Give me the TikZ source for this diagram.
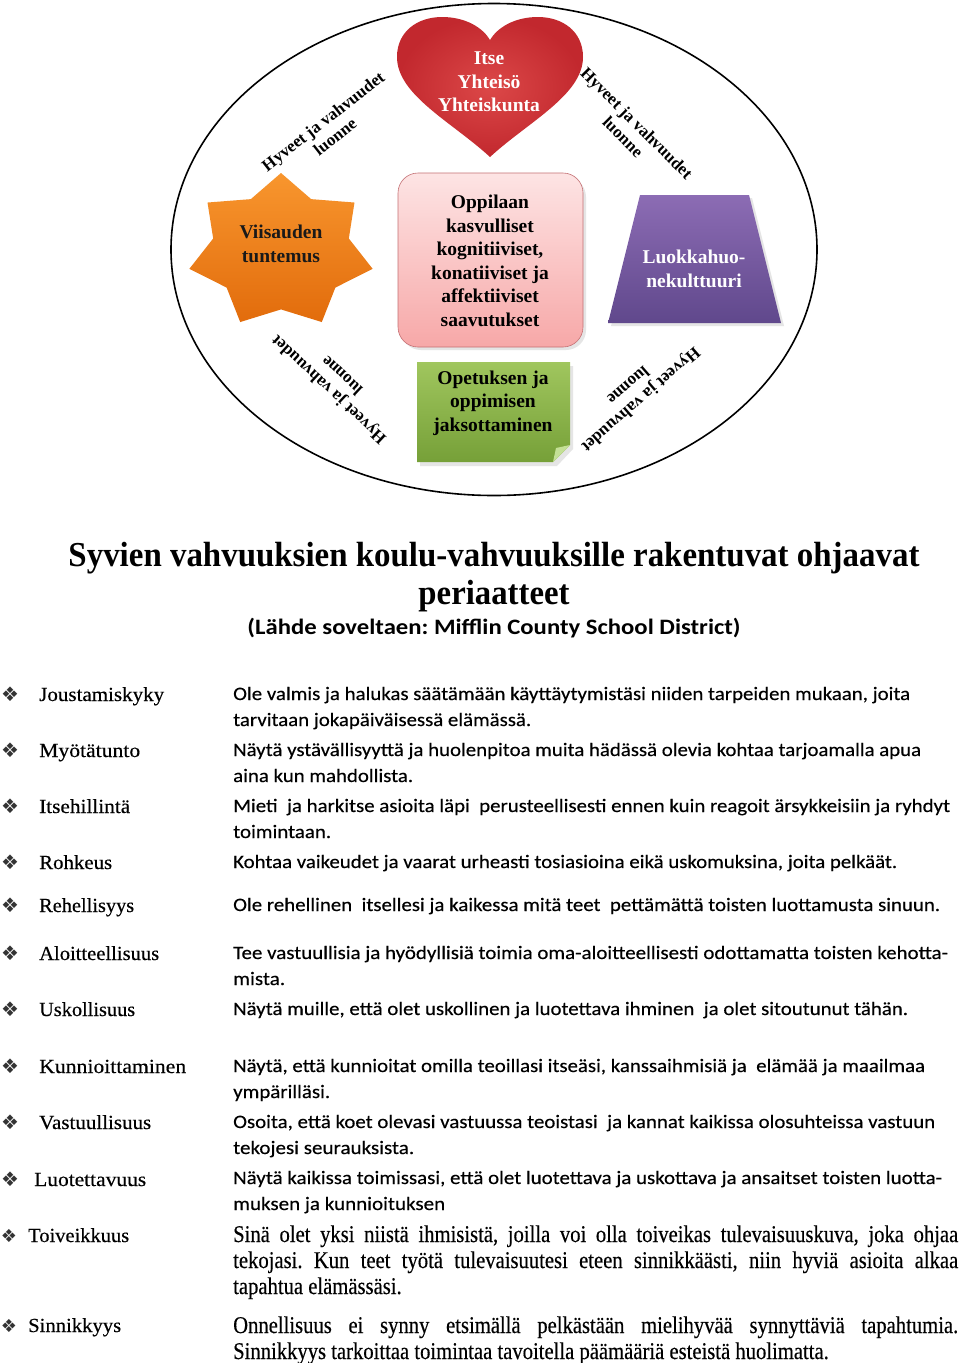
\documentclass[tikz,border=0pt]{standalone}
\usepackage{graphicx}
\usepackage{fontspec}
\setmainfont{Liberation Serif}
\newfontfamily\labfont[FakeBold=0.35]{Liberation Serif}
\newfontfamily\calfont[FakeBold=0.3]{Carlito}
\newfontfamily\calbfont{Carlito Bold}
\newfontfamily\symfont{DejaVu Sans}
\newfontfamily\condfont[FakeStretch=0.86,FakeBold=0.35]{Liberation Serif}
\newcommand{\hw}[2]{\resizebox{#1pt}{\height}{#2}}
\frenchspacing
\definecolor{heartin}{RGB}{220,72,72}
\definecolor{heartout}{RGB}{194,40,46}
\definecolor{startop}{RGB}{248,150,46}
\definecolor{starbot}{RGB}{226,108,12}
\definecolor{pinktop}{RGB}{253,228,228}
\definecolor{pinkbot}{RGB}{247,168,168}
\definecolor{pinkline}{RGB}{196,112,116}
\definecolor{greentop}{RGB}{160,198,94}
\definecolor{greenbot}{RGB}{118,160,56}
\definecolor{greenfold}{RGB}{196,224,150}
\definecolor{purtop}{RGB}{140,108,180}
\definecolor{purbot}{RGB}{96,72,140}
\tikzset{
  shapetext/.style={font=\fontsize{19.5}{23.5}\selectfont\bfseries, align=center, inner sep=0},
  lbl/.style={font=\fontsize{17}{19.5}\selectfont\bfseries, align=center, inner sep=0},
  listlab/.style={anchor=base west, inner sep=0, font=\labfont\fontsize{20}{24}\selectfont},
  desc/.style={anchor=base west, inner sep=0, font=\calfont\fontsize{19}{23}\selectfont},
  cdesc/.style={anchor=base west, inner sep=0, font=\condfont\fontsize{24}{27}\selectfont},
  bul/.style={anchor=base, inner sep=0, font=\symfont\fontsize{20}{22}\selectfont, text=black!80},
  titlestyle/.style={anchor=base, inner sep=0, font=\fontsize{35}{38}\selectfont\bfseries},
}
\begin{document}
\begin{tikzpicture}[x=1pt,y=-1pt]
\useasboundingbox[fill=white] (0,0) rectangle (960,1363);

% outer ellipse
\draw[line width=1.6pt] (494,249.5) ellipse [x radius=323pt, y radius=246pt];

% heart
\shade[inner color=heartin, outer color=heartout, shading=radial]
  (490,157) .. controls (452,122) and (397,95) .. (397,57)
  .. controls (397,31) and (418,17) .. (442,17)
  .. controls (466,17) and (483,28) .. (490,40)
  .. controls (497,28) and (514,17) .. (538,17)
  .. controls (562,17) and (583,31) .. (583,57)
  .. controls (583,95) and (528,122) .. (490,157) -- cycle;
\node[shapetext, text=white] (heart) at (489,82) {Itse\\Yhteisö\\Yhteiskunta};

% star
\shade[top color=startop, bottom color=starbot]
  (281,173)
  \foreach \i/\r in {1/0.74,2/1,3/0.74,4/1,5/0.74,6/1,7/0.74,8/1,9/0.74,10/1,11/0.74,12/1,13/0.74}{
    -- ({281+94*\r*cos(90+\i*360/14)},{251.4-78.4*\r*sin(90+\i*360/14)})
  } -- cycle;
\node[shapetext, text=black!90] (star) at (281,244) {Viisauden\\tuntemus};

% centre rounded box
\fill[black!10, rounded corners=20pt] (401,177) rectangle (586,350);
\shade[rounded corners=20pt, top color=pinktop, bottom color=pinkbot]
  (398,173) rectangle (583,347);
\draw[rounded corners=20pt, draw=pinkline, line width=0.6pt] (398,173) rectangle (583,347);
\node[shapetext, text=black] (centre) at (490,261) {Oppilaan\\kasvulliset\\kognitiiviset,\\konatiiviset ja\\affektiiviset\\saavutukset};

% green note
\fill[black!10] (420,366) -- (573,366) -- (573,449) -- (557,466) -- (420,466) -- cycle;
\shade[top color=greentop, bottom color=greenbot]
  (417,362) -- (570,362) -- (570,445) -- (553,462) -- (417,462) -- cycle;
\fill[greenfold] (570,445) -- (556,448) -- (553,462) -- cycle;
\node[shapetext, text=black] (note) at (493,403) {Opetuksen ja\\oppimisen\\jaksottaminen};

% purple trapezoid
\fill[black!10] (643,198) -- (752,198) -- (784,326) -- (611,326) -- cycle;
\shade[top color=purtop, bottom color=purbot]
  (640,195) -- (749,195) -- (781,323) -- (608,323) -- cycle;
\node[shapetext, text=white] (trap) at (694,269) {Luokkahuo-\\nekulttuuri};

% rotated labels
\node[lbl, rotate=38] (hul) at (329,129) {Hyveet ja vahvuudet\\luonne};
\node[lbl, rotate=-45] (hur) at (630,130) {Hyveet ja vahvuudet\\luonne};
\node[lbl, rotate=137] (hll) at (335,383) {Hyveet ja vahvuudet\\luonne};
\node[lbl, rotate=221] (hlr) at (635,393) {Hyveet ja vahvuudet\\luonne};

% title
\node[titlestyle] (t1) at (494,566) {\hw{851}{Syvien vahvuuksien koulu-vahvuuksille rakentuvat ohjaavat}};
\node[titlestyle] (t2) at (494,604) {\hw{151}{periaatteet}};
\node[anchor=base, inner sep=0, font=\calbfont\fontsize{22}{26}\selectfont] (t3) at (494,634) {\hw{493}{(Lähde soveltaen: Mifflin County School District)}};

% bullets
\foreach \n/\y in {1/701,2/757,3/813,4/869,5/912,6/960,7/1016,8/1073,9/1129,10/1186}{
  \node[bul] (b\n) at (10,\y) {❖};
}
\node[bul, font=\symfont\fontsize{18}{20}\selectfont] (b11) at (9,1242) {❖};
\node[bul, font=\symfont\fontsize{18}{20}\selectfont] (b12) at (9,1332) {❖};

% labels
\node[listlab] (l1) at (39,701) {\hw{125}{Joustamiskyky}};
\node[listlab] (l2) at (39,757) {\hw{101}{Myötätunto}};
\node[listlab] (l3) at (39,813) {\hw{91}{Itsehillintä}};
\node[listlab] (l4) at (39,869) {\hw{73}{Rohkeus}};
\node[listlab] (l5) at (39,912) {\hw{95}{Rehellisyys}};
\node[listlab] (l6) at (39,960) {\hw{120}{Aloitteellisuus}};
\node[listlab] (l7) at (39,1016) {\hw{96}{Uskollisuus}};
\node[listlab] (l8) at (39,1073) {\hw{147}{Kunnioittaminen}};
\node[listlab] (l9) at (39,1129) {\hw{112}{Vastuullisuus}};
\node[listlab] (l10) at (34,1186) {\hw{112}{Luotettavuus}};
\node[listlab] (l11) at (28,1242) {\hw{101}{Toiveikkuus}};
\node[listlab] (l12) at (28,1332) {\hw{93}{Sinnikkyys}};

% descriptions
\node[desc] (d1) at (233,700) {\hw{677}{Ole valmis ja halukas säätämään käyttäytymistäsi niiden tarpeiden mukaan, joita}};
\node[desc] (d2) at (233,726) {\hw{298}{tarvitaan jokapäiväisessä elämässä.}};
\node[desc] (d3) at (233,756) {\hw{688}{Näytä ystävällisyyttä ja huolenpitoa muita hädässä olevia kohtaa tarjoamalla apua}};
\node[desc] (d4) at (233,782) {\hw{180}{aina kun mahdollista.}};
\node[desc] (d5) at (233,812) {\hw{717}{Mieti \ ja harkitse asioita läpi \ perusteellisesti ennen kuin reagoit ärsykkeisiin ja ryhdyt}};
\node[desc] (d6) at (233,838) {\hw{98}{toimintaan.}};
\node[desc] (d7) at (233,868) {\hw{664}{Kohtaa vaikeudet ja vaarat urheasti tosiasioina eikä uskomuksina, joita pelkäät.}};
\node[desc] (d8) at (233,911) {\hw{707}{Ole rehellinen \ itsellesi ja kaikessa mitä teet \ pettämättä toisten luottamusta sinuun.}};
\node[desc] (d9) at (233,959) {\hw{715}{Tee vastuullisia ja hyödyllisiä toimia oma-aloitteellisesti odottamatta toisten kehotta-}};
\node[desc] (d10) at (233,985) {\hw{52}{mista.}};
\node[desc] (d11) at (233,1015) {\hw{675}{Näytä muille, että olet uskollinen ja luotettava ihminen \ ja olet sitoutunut tähän.}};
\node[desc] (d12) at (233,1072) {\hw{692}{Näytä, että kunnioitat omilla teoillasi itseäsi, kanssaihmisiä ja \ elämää ja maailmaa}};
\node[desc] (d13) at (233,1098) {\hw{97}{ympärilläsi.}};
\node[desc] (d14) at (233,1128) {\hw{702}{Osoita, että koet olevasi vastuussa teoistasi \ ja kannat kaikissa olosuhteissa vastuun}};
\node[desc] (d15) at (233,1154) {\hw{181}{tekojesi seurauksista.}};
\node[desc] (d16) at (233,1184) {\hw{709}{Näytä kaikissa toimissasi, että olet luotettava ja uskottava ja ansaitset toisten luotta-}};
\node[desc] (d17) at (233,1210) {\hw{212}{muksen ja kunnioituksen}};
\node[cdesc] (d18) at (233,1242) {\makebox[725pt][s]{Sinä olet yksi niistä ihmisistä, joilla voi olla toiveikas tulevaisuuskuva, joka ohjaa}};
\node[cdesc] (d19) at (233,1268) {\makebox[725pt][s]{tekojasi. Kun teet työtä tulevaisuutesi eteen sinnikkäästi, niin hyviä asioita alkaa}};
\node[cdesc] (d20) at (233,1294) {tapahtua elämässäsi.};
\node[cdesc] (d21) at (233,1333) {\makebox[725pt][s]{Onnellisuus ei synny etsimällä pelkästään mielihyvää synnyttäviä tapahtumia.}};
\node[cdesc] (d22) at (233,1359) {Sinnikkyys tarkoittaa toimintaa tavoitella päämääriä esteistä huolimatta.};
\end{tikzpicture}
\end{document}
